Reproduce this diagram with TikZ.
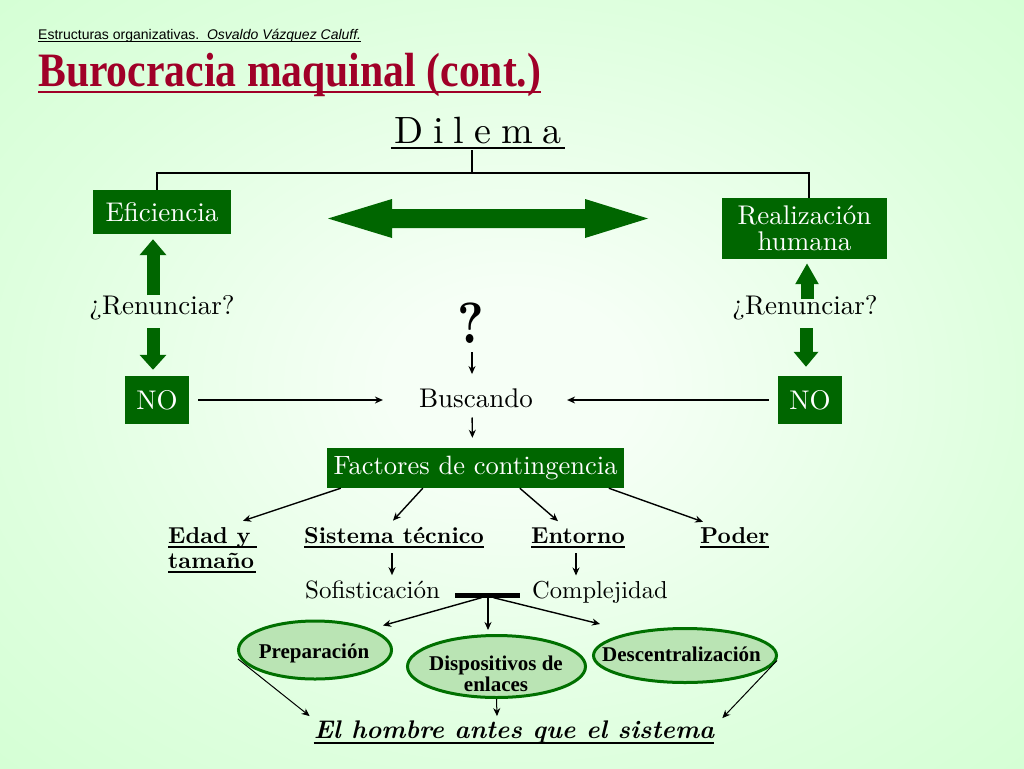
\documentclass[tikz,border=0pt]{standalone}
\usepackage{fontspec}
\usepackage{graphicx}
\setmainfont{lmroman10-regular.otf}[BoldFont=lmroman10-bold.otf,ItalicFont=lmroman10-italic.otf,BoldItalicFont=lmroman10-bolditalic.otf]
\newfontfamily\hsans{Liberation Sans}
\newfontfamily\tserif{Liberation Serif}
\usetikzlibrary{arrows.meta,calc,shapes.geometric}
\definecolor{dkgreen}{RGB}{0,102,0}
\definecolor{bgout}{RGB}{200,255,200}
\definecolor{bgmid}{RGB}{222,255,222}
\definecolor{bgin}{RGB}{246,255,246}
\definecolor{titred}{RGB}{160,0,40}
\definecolor{ellfill}{RGB}{186,228,180}
\definecolor{ellline}{RGB}{0,112,0}
\pgfdeclareradialshading{bgshade}{\pgfpoint{0bp}{0bp}}{color(0bp)=(bgin); color(6bp)=(bgin); color(25bp)=(bgmid); color(50bp)=(bgout); color(75bp)=(bgout)}
\begin{document}
\begin{tikzpicture}[x=1pt,y=-1pt,
  gbox/.style={fill=dkgreen,text=white,inner sep=0pt,font=\fontsize{27}{26}\selectfont},
  lbl/.style={inner sep=0pt,anchor=base,font=\fontsize{27}{27}\selectfont},
  blbl/.style={inner sep=0pt,anchor=base west,font=\bfseries\fontsize{23}{28}\selectfont},
  thinarr/.style={line width=1.4pt,-{Stealth[length=8pt,width=7pt]}},
  blk/.style={draw=dkgreen,line width=13pt,-{Triangle[length=16pt,width=26pt]}},
  ell/.style={ellipse,draw=ellline,line width=3pt,fill=ellfill,inner sep=0pt},
  elltxt/.style={inner sep=0pt,anchor=base,font=\tserif\bfseries\fontsize{21}{19}\selectfont,align=center},
  ulin/.style={line width=1.8pt},
  conn/.style={line width=2pt}]
\useasboundingbox (0,0) rectangle (1024,768);
\shade[shading=bgshade] (0,0) rectangle (1024,768);

% header and title
\node[inner sep=0pt,anchor=base west,font=\hsans\fontsize{14}{14}\selectfont] (hdr) at (38,39.5)
  {Estructuras organizativas.\ \ \textit{Osvaldo Vázquez Caluff.}\ };
\draw[line width=1pt] ([yshift=-2.5pt]hdr.base west) -- ([yshift=-2.5pt]hdr.base east);
\node[inner sep=0pt,anchor=base west,text=titred,font=\tserif\bfseries\fontsize{41.7}{45}\selectfont] (title) at (38,86)
  {\scalebox{1}[1.15]{Burocracia maquinal (cont.)}};
\draw[titred,line width=2pt] ([yshift=-5.5pt]title.base west) -- ([yshift=-5.5pt]title.base east);

% dilema
\node[inner sep=0pt,anchor=base,font=\fontsize{38}{38}\selectfont] (dil) at (478,143)
  {D\hspace{10pt}i\hspace{10pt}l\hspace{10pt}e\hspace{10pt}m\hspace{10pt}a};
\draw[line width=1.8pt] ([yshift=-5pt,xshift=-3pt]dil.base west) -- ([yshift=-5pt,xshift=3pt]dil.base east);

\node[gbox,minimum width=138pt,minimum height=44pt] (ef) at (162,212) {Eficiencia};
\node[gbox,minimum width=165pt,minimum height=61pt,align=center] (rh) at (804.5,228.5) {Realización\\humana};

\coordinate (dilb) at (472,150);
\coordinate (jn) at (472,173);
\draw[conn] (dilb) -- (jn);
\draw[conn] ([xshift=-5pt]ef.north) |- (jn) -| ([xshift=4.5pt]rh.north);

% big double arrow
\fill[dkgreen] (328,218.5) -- (392,199) -- (392,209) -- (585,209) -- (585,199) -- (648,218.5)
  -- (585,238) -- (585,228) -- (392,228) -- (392,238) -- cycle;

% renunciar
\node[lbl] (rl) at (162,314) {¿Renunciar?};
\node[lbl] (rr) at (805,314) {¿Renunciar?};
\node[gbox,minimum width=64pt,minimum height=48pt] (no1) at (157,400) {NO};
\node[gbox,minimum width=64pt,minimum height=48pt] (no2) at (810,400) {NO};

\coordinate (ua1) at (153,295);
\draw[blk,shorten >=5pt] (ua1) -- (ua1 |- ef.south);
\coordinate (da1) at (153,328);
\draw[blk,-{Triangle[length=15pt,width=26pt]},shorten >=6pt] (da1) -- (da1 |- no1.north);
\coordinate (ua2) at (807,299);
\draw[blk,-{Triangle[length=21pt,width=22pt]},shorten >=4pt] (ua2) -- (ua2 |- rh.south);
\coordinate (da2) at (806,328);
\draw[blk,-{Triangle[length=15pt,width=24pt]},shorten >=9pt] (da2) -- (da2 |- no2.north);

% center column
\node[inner sep=0pt,anchor=base,font=\bfseries\fontsize{58}{58}\selectfont] (qm) at (471,343) {\scalebox{0.85}[1]{?}};
\node[lbl] (bus) at (476,407) {Buscando};
\draw[thinarr,shorten <=9pt,shorten >=14pt] ([xshift=1pt]qm.south) -- ([xshift=-4pt]bus.north);
\draw[thinarr,shorten <=9pt,shorten >=36pt] (no1.east) -- (bus.west |- no1.east);
\draw[thinarr,shorten <=9pt,shorten >=34pt] (no2.west) -- (bus.east |- no2.west);

\node[gbox,minimum width=297pt,minimum height=40pt,font=\fontsize{26.5}{26}\selectfont] (fac) at (475.5,468) {Factores de contingencia};
\draw[thinarr,shorten <=10pt,shorten >=10pt] ([xshift=-4pt]bus.south) -- ([xshift=-3.5pt]bus.south |- fac.north);

% factors
\node[blbl] (edad) at (168,543) {Edad y};
\node[blbl] (tam) at (168,568) {tamaño};
\node[blbl] (sis) at (304,543) {Sistema técnico};
\node[blbl] (ent) at (531,543) {Entorno};
\node[blbl] (pod) at (700,543) {Poder};
\draw[ulin] ([yshift=-4pt]edad.base west) -- ([yshift=-4pt,xshift=6pt]edad.base east);
\draw[ulin] ([yshift=-4pt]tam.base west) -- ([yshift=-4pt,xshift=2pt]tam.base east);
\draw[ulin] ([yshift=-4pt]sis.base west) -- ([yshift=-4pt]sis.base east);
\draw[ulin] ([yshift=-4pt]ent.base west) -- ([yshift=-4pt]ent.base east);
\draw[ulin] ([yshift=-4pt]pod.base west) -- ([yshift=-4pt]pod.base east);

\draw[thinarr] ($(fac.south west)+(14,0)$) -- ($(edad.north west)+(75,-6)$);
\draw[thinarr] ($(fac.south west)+(96,0)$) -- ($(sis.north west)+(89,-6)$);
\draw[thinarr] ($(fac.south west)+(193,0)$) -- ($(ent.north west)+(27,-6)$);
\draw[thinarr] ($(fac.south west)+(282,0)$) -- ($(pod.north west)+(3,-5)$);

\node[lbl,anchor=base west,font=\fontsize{25}{25}\selectfont] (sof) at (305,598) {Sofisticación};
\node[lbl,anchor=base west,font=\fontsize{24.5}{25}\selectfont] (com) at (532,598) {Complejidad};
\draw[thinarr] ($(sis.base west)+(88,10)$) -- ($(sof.north west)+(87,-5)$);
\draw[thinarr] ($(ent.base west)+(45,10)$) -- ($(com.north west)+(44,-5)$);

\node[fill=black,minimum width=65pt,minimum height=5pt,inner sep=0pt] (bar) at (487.5,595) {};

% ellipses
\node[ell,minimum width=153pt,minimum height=58pt] (prep) at (315,650) {};
\node[ell,minimum width=178pt,minimum height=62pt] (disp) at (496.5,666.5) {};
\node[ell,minimum width=183pt,minimum height=54pt] (desc) at (685,655.5) {};
\node[elltxt] (prept) at (314,658) {Preparación};
\node[elltxt] (dispt) at (496,691) {Dispositivos de\\enlaces};
\node[elltxt] (desct) at (681.5,661) {Descentralización};

\draw[thinarr] ($(bar.south)+(-6,0)$) -- ($(prep.north)+(68,6)$);
\draw[thinarr] ($(bar.south)+(0.5,0)$) -- ($(disp.north)+(-8.5,-4)$);
\draw[thinarr] ($(bar.south)+(6,0)$) -- ($(desc.north)+(-85,-3)$);

\node[inner sep=0pt,anchor=base,font=\bfseries\itshape\fontsize{25.5}{25}\selectfont] (hom) at (514,738) {El hombre antes que el sistema};
\draw[ulin] ([yshift=-5pt]hom.base west) -- ([yshift=-5pt]hom.base east);

\draw[thinarr,line width=1pt] ($(prep.west)+(1,9)$) -- ($(hom.north west)+(-4,-4)$);
\draw[thinarr,line width=1pt] (disp.south) -- ($(hom.north)+(-17,-4)$);
\draw[thinarr,line width=1pt] ($(desc.east)+(-1,5)$) -- ($(hom.north east)+(8,-2)$);
\end{tikzpicture}
\end{document}
